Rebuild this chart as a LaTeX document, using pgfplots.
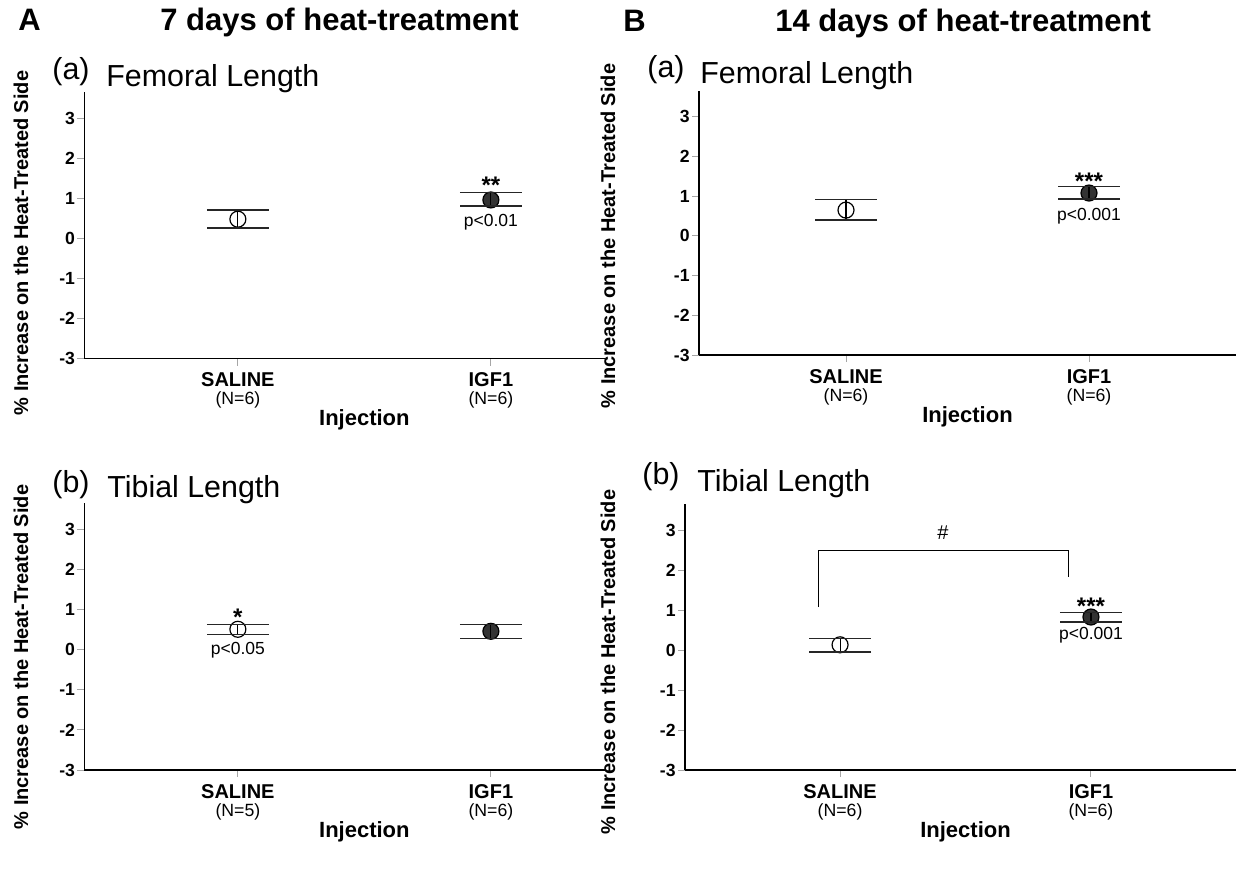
\documentclass[border=0pt]{standalone}
\usepackage{fontspec}
\setmainfont{Liberation Sans}
\usepackage{pgfplots}
\pgfplotsset{compat=1.18}
\definecolor{darkfill}{RGB}{51,51,51}

\pgfplotsset{
  panel/.style={
    set layers, scale only axis, clip=false, anchor=south west,
    axis x line*=bottom, axis y line*=left,
    axis line style={black, line width=0.6pt},
    tick align=outside, major tick length=3.5pt,
    tick style={black!35, line width=0.5pt},
    ymin=-3, ymax=3.66,
    ytick={-3,...,3}, yticklabels={-3,-2,-1,0,1,2,3},
    yticklabel style={font=\fontsize{8.8}{9}\selectfont\bfseries, inner sep=1pt},
    xtick={0,1},
    xticklabel style={align=center, font=\fontsize{10}{9.1}\selectfont},
    xlabel={Injection},
    xlabel style={font=\fontsize{11}{12}\selectfont\bfseries,
      at={(axis cs:0.5,-3)}, anchor=base, yshift=-33.5pt},
  },
  openpt/.style={only marks, mark=*, mark size=4pt,
    mark options={draw=black, fill=white, line width=0.6pt}},
  fillpt/.style={only marks, mark=*, mark size=4pt,
    mark options={draw=black, fill=darkfill, line width=0.6pt}},
  % confidence bars go on top, so the bar shows through the circle
  ci/.style={mark=none, on layer=axis foreground, mark layer=axis foreground,
    error bars/.cd, y dir=both, y explicit,
    error bar style={black, line width=0.55pt},
    error mark options={rotate=90, mark size=15.5pt, black!85, line width=0.55pt}},
}
\newcommand{\cat}[2]{{\bfseries #1}\\{\fontsize{8.85}{9.1}\selectfont (#2)}}
\newcommand{\sigfont}{\fontsize{12}{12}\selectfont\bfseries}

\begin{document}
\begin{tikzpicture}
\begin{scope}[x=0.5pt, y=-0.5pt]
  \useasboundingbox (0,0) rectangle (1238,869);
  \coordinate (Aa) at (84.3,358.7);
  \coordinate (Ab) at (84.3,770);
  \coordinate (Ba) at (699,355);
  \coordinate (Bb) at (685,770);
  % headings
  \node[anchor=base west, inner sep=0pt, font=\fontsize{15.5}{16}\selectfont\bfseries] at (18,30) {A};
  \node[anchor=base west, inner sep=0pt, font=\fontsize{15.5}{16}\selectfont\bfseries] at (160,30) {7 days of heat-treatment};
  \node[anchor=base west, inner sep=0pt, font=\fontsize{15.5}{16}\selectfont\bfseries] at (623,31) {B};
  \node[anchor=base west, inner sep=0pt, font=\fontsize{15.5}{16}\selectfont\bfseries] at (775,31) {14 days of heat-treatment};
  \node[anchor=base west, inner sep=0pt, font=\fontsize{15.2}{16}\selectfont] at (52,79) {(a)};
  \node[anchor=base west, inner sep=0pt, font=\fontsize{15.2}{16}\selectfont] at (106,86) {Femoral Length};
  \node[anchor=base west, inner sep=0pt, font=\fontsize{15.2}{16}\selectfont] at (647,77) {(a)};
  \node[anchor=base west, inner sep=0pt, font=\fontsize{15.2}{16}\selectfont] at (700,83) {Femoral Length};
  \node[anchor=base west, inner sep=0pt, font=\fontsize{15.2}{16}\selectfont] at (52,492) {(b)};
  \node[anchor=base west, inner sep=0pt, font=\fontsize{15.2}{16}\selectfont] at (107,497) {Tibial Length};
  \node[anchor=base west, inner sep=0pt, font=\fontsize{15.2}{16}\selectfont] at (642,484) {(b)};
  \node[anchor=base west, inner sep=0pt, font=\fontsize{15.2}{16}\selectfont] at (697,491) {Tibial Length};
  % y labels
  \foreach \p in {(28,243),(28,657),(615,236),(615,662)}
    \node[rotate=90, anchor=base, inner sep=0pt, font=\fontsize{10}{11}\selectfont\bfseries] at \p {\% Increase on the Heat-Treated Side};
\end{scope}

%% A (a) femoral, 7 days
\begin{axis}[panel, at={(Aa)}, width=260.35pt, height=133.5pt,
  xmin=-0.607, xmax=1.451,
  xticklabels={{\cat{SALINE}{N=6}},{\cat{IGF1}{N=6}}}]
  \addplot[openpt] coordinates {(0,0.48)};
  \addplot[fillpt] coordinates {(1,0.96)};
  \addplot[ci] coordinates {(0,0.48) += (0,0.23) -= (0,0.22)};
  \addplot[ci] coordinates {(1,0.96) += (0,0.18) -= (0,0.15)};
  \node[anchor=base, font=\sigfont] at (axis cs:1,1.13) {**};
  \node[anchor=base, font=\fontsize{8.75}{9}\selectfont] at (axis cs:1,0.31) {p<0.01};
\end{axis}

%% A (b) tibial, 7 days
\begin{axis}[panel, at={(Ab)}, width=260.35pt, height=133.5pt,
  xmin=-0.607, xmax=1.451,
  xticklabels={{\cat{SALINE}{N=5}},{\cat{IGF1}{N=6}}}]
  \addplot[openpt] coordinates {(0,0.51)};
  \addplot[fillpt] coordinates {(1,0.46)};
  \addplot[ci] coordinates {(0,0.51) += (0,0.13) -= (0,0.12)};
  \addplot[ci] coordinates {(1,0.46) += (0,0.17) -= (0,0.17)};
  \node[anchor=base, font=\sigfont] at (axis cs:0,0.60) {*};
  \node[anchor=base, font=\fontsize{8.75}{9}\selectfont] at (axis cs:0,-0.13) {p<0.05};
\end{axis}

%% B (a) femoral, 14 days
\begin{axis}[panel, at={(Ba)}, width=268.5pt, height=132.2pt,
  xmin=-0.605, xmax=1.605,
  xticklabels={{\cat{SALINE}{N=6}},{\cat{IGF1}{N=6}}}]
  \addplot[openpt] coordinates {(0,0.65)};
  \addplot[fillpt] coordinates {(1,1.08)};
  \addplot[ci] coordinates {(0,0.65) += (0,0.26) -= (0,0.25)};
  \addplot[ci] coordinates {(1,1.08) += (0,0.16) -= (0,0.15)};
  \node[anchor=base, font=\sigfont] at (axis cs:1,1.18) {***};
  \node[anchor=base, font=\fontsize{8.75}{9}\selectfont] at (axis cs:1,0.40) {p<0.001};
\end{axis}

%% B (b) tibial, 14 days
\begin{axis}[panel, at={(Bb)}, width=275.5pt, height=133.2pt,
  xmin=-0.618, xmax=1.578,
  xticklabels={{\cat{SALINE}{N=6}},{\cat{IGF1}{N=6}}}]
  \addplot[openpt] coordinates {(0,0.13)};
  \addplot[fillpt] coordinates {(1,0.825)};
  \addplot[ci] coordinates {(0,0.13) += (0,0.16) -= (0,0.18)};
  \addplot[ci] coordinates {(1,0.825) += (0,0.115) -= (0,0.125)};
  \addplot[black, line width=0.6pt, mark=none] coordinates {(-0.086,1.07) (-0.086,2.48) (0.91,2.48) (0.91,1.83)};
  \node[anchor=base, font=\fontsize{10}{10}\selectfont] at (axis cs:0.41,2.77) {\#};
  \node[anchor=base, font=\sigfont] at (axis cs:1,0.90) {***};
  \node[anchor=base, font=\fontsize{8.75}{9}\selectfont] at (axis cs:1,0.27) {p<0.001};
\end{axis}
\end{tikzpicture}
\end{document}
